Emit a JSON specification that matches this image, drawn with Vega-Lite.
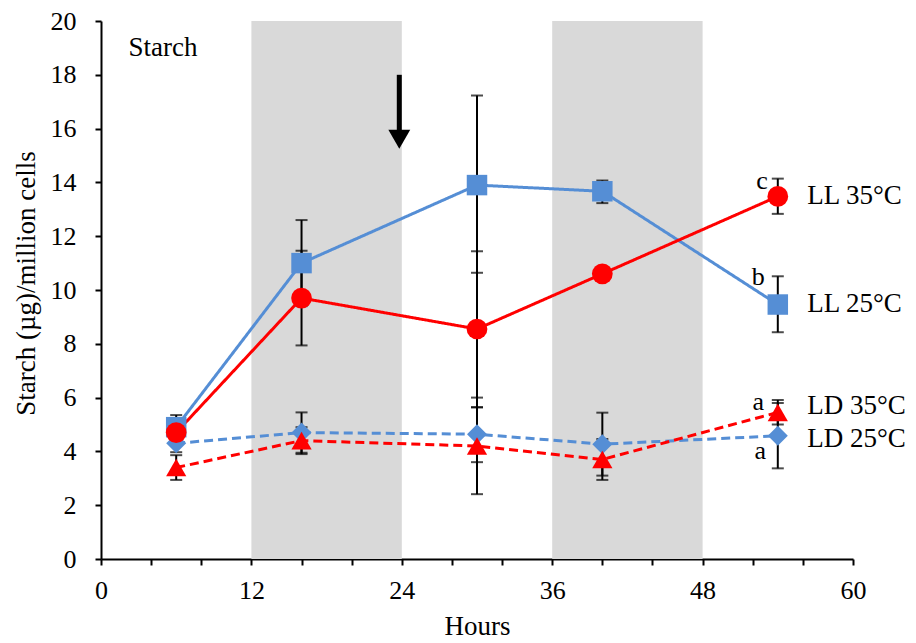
{
  "$schema": "https://vega.github.io/schema/vega-lite/v6.json",
  "width": 752,
  "height": 538,
  "autosize": "none",
  "padding": {"left": 101, "top": 21, "right": 63, "bottom": 84},
  "background": "white",
  "config": {
    "view": {"stroke": null},
    "font": "Liberation Serif",
    "axis": {
      "grid": false,
      "domainColor": "black",
      "domainWidth": 2,
      "tickColor": "black",
      "tickWidth": 2,
      "labelFont": "Liberation Serif",
      "labelFontSize": 26,
      "labelColor": "black",
      "titleFont": "Liberation Serif",
      "titleFontSize": 27,
      "titleFontWeight": "normal",
      "titleColor": "black"
    }
  },
  "datasets": {
    "bands": [{"start": 12, "end": 24}, {"start": 36, "end": 48}],
    "series": [
      {"series": "LD 25°C", "hour": 6, "value": 4.3, "lo": 3.97, "hi": 4.63},
      {"series": "LD 25°C", "hour": 16, "value": 4.7, "lo": 3.95, "hi": 5.45},
      {"series": "LD 25°C", "hour": 30, "value": 4.64, "lo": 3.6, "hi": 5.64},
      {"series": "LD 25°C", "hour": 40, "value": 4.27, "lo": 3.1, "hi": 5.44},
      {"series": "LD 25°C", "hour": 54, "value": 4.58, "lo": 3.37, "hi": 5.8},
      {"series": "LD 35°C", "hour": 6, "value": 3.4, "lo": 2.94, "hi": 3.86},
      {"series": "LD 35°C", "hour": 16, "value": 4.4, "lo": 3.9, "hi": 4.9},
      {"series": "LD 35°C", "hour": 30, "value": 4.2, "lo": 2.41, "hi": 6.0},
      {"series": "LD 35°C", "hour": 40, "value": 3.7, "lo": 2.94, "hi": 4.46},
      {"series": "LD 35°C", "hour": 54, "value": 5.45, "lo": 5.0, "hi": 5.91},
      {"series": "LL 25°C", "hour": 6, "value": 4.9, "lo": 4.45, "hi": 5.35},
      {"series": "LL 25°C", "hour": 16, "value": 11.0, "lo": 9.4, "hi": 12.6},
      {"series": "LL 25°C", "hour": 30, "value": 13.9, "lo": 10.64, "hi": 17.23},
      {"series": "LL 25°C", "hour": 40, "value": 13.67, "lo": 13.23, "hi": 14.07},
      {"series": "LL 25°C", "hour": 54, "value": 9.46, "lo": 8.43, "hi": 10.51},
      {"series": "LL 35°C", "hour": 6, "value": 4.7, "lo": 4.4, "hi": 5.0},
      {"series": "LL 35°C", "hour": 16, "value": 9.7, "lo": 7.94, "hi": 11.46},
      {"series": "LL 35°C", "hour": 30, "value": 8.55, "lo": 5.64, "hi": 11.44},
      {"series": "LL 35°C", "hour": 40, "value": 10.6, "lo": 10.4, "hi": 10.8},
      {"series": "LL 35°C", "hour": 54, "value": 13.48, "lo": 12.83, "hi": 14.14}
    ],
    "labels": [
      {"text": "LL 35°C", "hour": 56.35, "value": 13.5},
      {"text": "LL 25°C", "hour": 56.35, "value": 9.48},
      {"text": "LD 35°C", "hour": 56.35, "value": 5.69},
      {"text": "LD 25°C", "hour": 56.35, "value": 4.46}
    ],
    "letters": [
      {"text": "c", "hour": 52.75, "value": 14.05},
      {"text": "b", "hour": 52.45, "value": 10.5},
      {"text": "a", "hour": 52.45, "value": 5.85},
      {"text": "a", "hour": 52.6, "value": 4.0}
    ],
    "note": [{"text": "Starch", "hour": 2.2, "value": 19.0}],
    "arrow": [{"hour": 23.8, "top": 18.0, "bottom": 15.9, "head": 15.6}]
  },
  "layer": [
    {
      "data": {"name": "bands"},
      "mark": {"type": "rect", "color": "#d9d9d9"},
      "encoding": {
        "x": {
          "field": "start", "type": "quantitative",
          "scale": {"domain": [0, 60], "nice": false, "zero": false},
          "axis": {
            "values": [0, 2, 4, 6, 8, 10, 12, 14, 16, 18, 20, 22, 24, 26, 28, 30, 32, 34, 36, 38, 40, 42, 44, 46, 48, 50, 52, 54, 56, 58, 60],
            "labelExpr": "datum.value % 6 === 0 ? datum.label : ''",
            "labelOverlap": false,
            "labelFlush": false,
            "tickSize": 6,
            "labelPadding": 12,
            "title": "Hours",
            "titleY": 75,
            "titleBaseline": "alphabetic",
            "encode": {
              "ticks": {
                "update": {
                  "y": {"signal": "datum.value % 6 === 0 ? -7 : 0"},
                  "y2": {"signal": "datum.value % 6 === 0 ? 7 : 5"}
                }
              }
            }
          }
        },
        "x2": {"field": "end"}
      }
    },
    {
      "data": {"name": "series"},
      "mark": {"type": "rule", "color": "black", "strokeWidth": 2},
      "encoding": {
        "x": {"field": "hour", "type": "quantitative"},
        "y": {
          "field": "lo", "type": "quantitative",
          "scale": {"domain": [0, 20], "nice": false, "zero": false},
          "axis": {
            "values": [0, 2, 4, 6, 8, 10, 12, 14, 16, 18, 20],
            "tickSize": 6,
            "labelPadding": 19,
            "title": "Starch (µg)/million cells",
            "titleX": -75,
            "titleY": 262,
            "titleAngle": -90,
            "titleAlign": "center",
            "titleBaseline": "middle",
            "encode": {
              "ticks": {"update": {"x": {"value": 7}}}
            }
          }
        },
        "y2": {"field": "hi"}
      }
    },
    {
      "data": {"name": "series"},
      "mark": {"type": "tick", "orient": "horizontal", "color": "black", "size": 12, "thickness": 2},
      "encoding": {
        "x": {"field": "hour", "type": "quantitative"},
        "y": {"field": "lo", "type": "quantitative"}
      }
    },
    {
      "data": {"name": "series"},
      "mark": {"type": "tick", "orient": "horizontal", "color": "black", "size": 12, "thickness": 2},
      "encoding": {
        "x": {"field": "hour", "type": "quantitative"},
        "y": {"field": "hi", "type": "quantitative"}
      }
    },
    {
      "data": {"name": "series"},
      "mark": {"type": "line", "strokeWidth": 3},
      "encoding": {
        "x": {"field": "hour", "type": "quantitative"},
        "y": {"field": "value", "type": "quantitative"},
        "color": {
          "field": "series", "type": "nominal", "legend": null,
          "scale": {"domain": ["LL 35°C", "LL 25°C", "LD 35°C", "LD 25°C"], "range": ["#ff0000", "#558ed5", "#ff0000", "#558ed5"]}
        },
        "strokeDash": {
          "field": "series", "type": "nominal", "legend": null,
          "scale": {"domain": ["LL 35°C", "LL 25°C", "LD 35°C", "LD 25°C"], "range": [[1, 0], [1, 0], [9, 5], [9, 5]]}
        },
        "order": {"field": "hour", "type": "quantitative"}
      }
    },
    {
      "data": {"name": "series"},
      "mark": {"type": "point", "filled": true, "opacity": 1},
      "encoding": {
        "x": {"field": "hour", "type": "quantitative"},
        "y": {"field": "value", "type": "quantitative"},
        "color": {
          "field": "series", "type": "nominal", "legend": null,
          "scale": {"domain": ["LL 35°C", "LL 25°C", "LD 35°C", "LD 25°C"], "range": ["#ff0000", "#558ed5", "#ff0000", "#558ed5"]}
        },
        "shape": {
          "field": "series", "type": "nominal", "legend": null,
          "scale": {"domain": ["LL 35°C", "LL 25°C", "LD 35°C", "LD 25°C"], "range": ["circle", "square", "triangle-up", "diamond"]}
        },
        "size": {
          "field": "series", "type": "nominal", "legend": null,
          "scale": {"domain": ["LL 35°C", "LL 25°C", "LD 35°C", "LD 25°C"], "range": [430, 400, 420, 330]}
        }
      }
    },
    {
      "data": {"name": "labels"},
      "mark": {"type": "text", "align": "left", "baseline": "middle", "fontSize": 27, "font": "Liberation Serif", "color": "black"},
      "encoding": {
        "x": {"field": "hour", "type": "quantitative"},
        "y": {"field": "value", "type": "quantitative"},
        "text": {"field": "text"}
      }
    },
    {
      "data": {"name": "letters"},
      "mark": {"type": "text", "align": "center", "baseline": "middle", "fontSize": 26, "font": "Liberation Serif", "color": "black"},
      "encoding": {
        "x": {"field": "hour", "type": "quantitative"},
        "y": {"field": "value", "type": "quantitative"},
        "text": {"field": "text"}
      }
    },
    {
      "data": {"name": "note"},
      "mark": {"type": "text", "align": "left", "baseline": "middle", "fontSize": 27, "font": "Liberation Serif", "color": "black"},
      "encoding": {
        "x": {"field": "hour", "type": "quantitative"},
        "y": {"field": "value", "type": "quantitative"},
        "text": {"field": "text"}
      }
    },
    {
      "data": {"name": "arrow"},
      "mark": {"type": "rule", "color": "black", "strokeWidth": 5},
      "encoding": {
        "x": {"field": "hour", "type": "quantitative"},
        "y": {"field": "top", "type": "quantitative"},
        "y2": {"field": "bottom"}
      }
    },
    {
      "data": {"name": "arrow"},
      "mark": {"type": "point", "shape": "triangle-down", "filled": true, "color": "black", "opacity": 1, "size": 480},
      "encoding": {
        "x": {"field": "hour", "type": "quantitative"},
        "y": {"field": "head", "type": "quantitative"}
      }
    }
  ]
}
